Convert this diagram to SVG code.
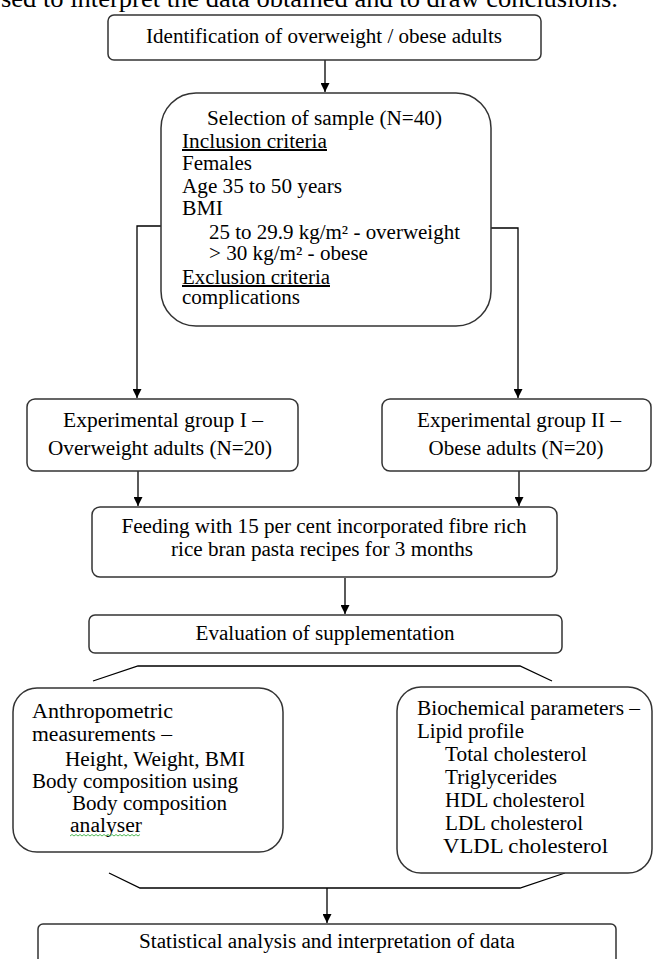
<svg xmlns="http://www.w3.org/2000/svg" width="654" height="959" viewBox="0 0 654 959">
<defs>
<style>
.box{fill:#fff;stroke:#333;stroke-width:1.5}
.t{font-family:"Liberation Serif","Times New Roman",serif;font-size:20px;fill:#000}
.c{text-anchor:middle}
.u{text-decoration:underline}
.ln{fill:none;stroke:#000;stroke-width:1.3}
</style>
<marker id="ah" markerUnits="userSpaceOnUse" markerWidth="9" markerHeight="9" refX="9" refY="4.5" orient="auto" viewBox="0 0 9 9">
<path d="M0,0 L9,4.5 L0,9 z" fill="#000"/>
</marker>
</defs>
<rect width="654" height="959" fill="#fff"/>
<text class="t" x="1" y="7" style="font-size:26px" textLength="617" lengthAdjust="spacingAndGlyphs">sed to interpret the data obtained and to draw conclusions.</text>

<g id="connectors">
<line class="ln" x1="325" y1="60" x2="325" y2="92" marker-end="url(#ah)"/>
<polyline class="ln" points="161,226 137,226 137,398" marker-end="url(#ah)"/>
<polyline class="ln" points="491,228 518,228 518,398" marker-end="url(#ah)"/>
<line class="ln" x1="138" y1="471" x2="138" y2="506" marker-end="url(#ah)"/>
<line class="ln" x1="519" y1="471" x2="519" y2="506" marker-end="url(#ah)"/>
<line class="ln" x1="345" y1="578" x2="345" y2="614" marker-end="url(#ah)"/>
<polyline class="ln" points="93,681 138,666 520,666 552,681"/>
<polyline class="ln" points="109,873 140,888 520,888 565,873"/>
<line class="ln" x1="327" y1="888" x2="327" y2="923" marker-end="url(#ah)"/>
</g>

<g id="identification">
<rect class="box" x="108" y="15" width="433" height="45" rx="6"/>
<text class="t c" x="324" y="43" textLength="356" lengthAdjust="spacingAndGlyphs">Identification of overweight / obese adults</text>
</g>

<g id="selection">
<rect class="box" x="161" y="93" width="330" height="233" rx="35"/>
<text class="t" x="207" y="125" textLength="235" lengthAdjust="spacingAndGlyphs">Selection of sample (N=40)</text>
<text class="t u" x="182" y="148" textLength="145" lengthAdjust="spacingAndGlyphs">Inclusion criteria</text>
<text class="t" x="182" y="170" textLength="70" lengthAdjust="spacingAndGlyphs">Females</text>
<text class="t" x="182" y="193" textLength="160" lengthAdjust="spacingAndGlyphs">Age 35 to 50 years</text>
<text class="t" x="182" y="215" textLength="41" lengthAdjust="spacingAndGlyphs">BMI</text>
<text class="t" x="209" y="239" textLength="251" lengthAdjust="spacingAndGlyphs">25 to 29.9 kg/m² - overweight</text>
<text class="t" x="209" y="260" textLength="159" lengthAdjust="spacingAndGlyphs">&gt; 30 kg/m² - obese</text>
<text class="t u" x="182" y="284" textLength="148" lengthAdjust="spacingAndGlyphs">Exclusion criteria</text>
<text class="t" x="182" y="304" textLength="118" lengthAdjust="spacingAndGlyphs">complications</text>
</g>

<g id="group1">
<rect class="box" x="27" y="399" width="271" height="72" rx="8"/>
<text class="t c" x="163" y="427" textLength="200" lengthAdjust="spacingAndGlyphs">Experimental group I –</text>
<text class="t c" x="160" y="455" textLength="224" lengthAdjust="spacingAndGlyphs">Overweight adults (N=20)</text>
</g>

<g id="group2">
<rect class="box" x="382" y="399" width="269" height="72" rx="8"/>
<text class="t c" x="519" y="427" textLength="204" lengthAdjust="spacingAndGlyphs">Experimental group II –</text>
<text class="t c" x="516" y="455" textLength="175" lengthAdjust="spacingAndGlyphs">Obese adults (N=20)</text>
</g>

<g id="feeding">
<rect class="box" x="92" y="507" width="465" height="70" rx="8"/>
<text class="t c" x="324" y="533" textLength="405" lengthAdjust="spacingAndGlyphs">Feeding with 15 per cent incorporated fibre rich</text>
<text class="t c" x="322" y="556" textLength="302" lengthAdjust="spacingAndGlyphs">rice bran pasta recipes for 3 months</text>
</g>

<g id="evaluation">
<rect class="box" x="89" y="615" width="473" height="38" rx="6"/>
<text class="t c" x="325" y="640" textLength="259" lengthAdjust="spacingAndGlyphs">Evaluation of supplementation</text>
</g>

<g id="anthropometric">
<rect class="box" x="13" y="688" width="270" height="164" rx="24"/>
<text class="t" x="32" y="718" textLength="141" lengthAdjust="spacingAndGlyphs">Anthropometric</text>
<text class="t" x="32" y="741" textLength="140" lengthAdjust="spacingAndGlyphs">measurements –</text>
<text class="t" x="65" y="766" textLength="180" lengthAdjust="spacingAndGlyphs">Height, Weight, BMI</text>
<text class="t" x="32" y="788" textLength="206" lengthAdjust="spacingAndGlyphs">Body composition using</text>
<text class="t" x="72" y="810" textLength="155" lengthAdjust="spacingAndGlyphs">Body composition</text>
<text class="t" x="70" y="832" textLength="72" lengthAdjust="spacingAndGlyphs">analyser</text>
<path d="M70,836 l2,-1.5 l2,1.5 l2,-1.5 l2,1.5 l2,-1.5 l2,1.5 l2,-1.5 l2,1.5 l2,-1.5 l2,1.5 l2,-1.5 l2,1.5 l2,-1.5 l2,1.5 l2,-1.5 l2,1.5 l2,-1.5 l2,1.5 l2,-1.5 l2,1.5 l2,-1.5 l2,1.5 l2,-1.5 l2,1.5 l2,-1.5 l2,1.5 l2,-1.5 l2,1.5 l2,-1.5 l2,1.5 l2,-1.5 l2,1.5 l2,-1.5 l2,1.5 l2,-1.5" fill="none" stroke="#3cb043" stroke-width="0.9"/>
</g>

<g id="biochemical">
<rect class="box" x="397" y="687" width="255" height="186" rx="24"/>
<text class="t" x="417" y="715" textLength="223" lengthAdjust="spacingAndGlyphs">Biochemical parameters –</text>
<text class="t" x="417" y="738" textLength="107" lengthAdjust="spacingAndGlyphs">Lipid profile</text>
<text class="t" x="445" y="761" textLength="142" lengthAdjust="spacingAndGlyphs">Total cholesterol</text>
<text class="t" x="445" y="784" textLength="112" lengthAdjust="spacingAndGlyphs">Triglycerides</text>
<text class="t" x="445" y="807" textLength="140" lengthAdjust="spacingAndGlyphs">HDL cholesterol</text>
<text class="t" x="445" y="830" textLength="138" lengthAdjust="spacingAndGlyphs">LDL cholesterol</text>
<text class="t" x="443" y="853" textLength="165" lengthAdjust="spacingAndGlyphs">VLDL cholesterol</text>
</g>

<g id="statistical">
<rect class="box" x="38" y="924" width="578" height="60" rx="5"/>
<text class="t c" x="327" y="948" textLength="376" lengthAdjust="spacingAndGlyphs">Statistical analysis and interpretation of data</text>
</g>
</svg>
